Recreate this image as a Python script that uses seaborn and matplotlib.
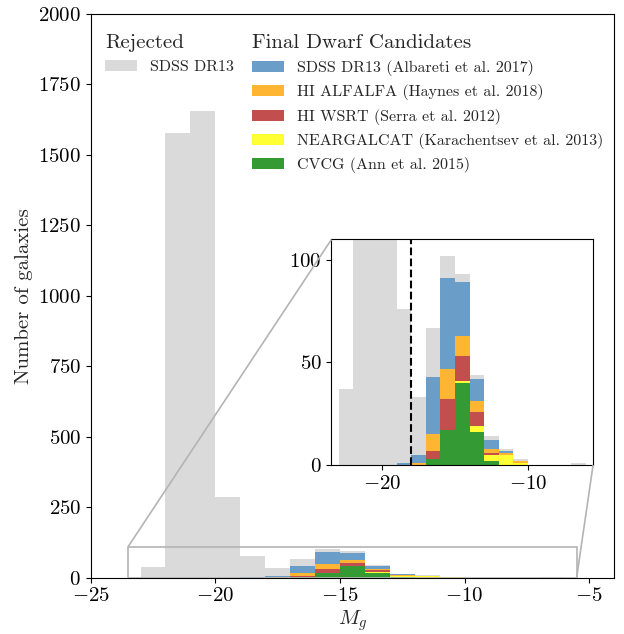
import numpy as np
import pandas as pd
import matplotlib
matplotlib.use('Agg')
import matplotlib.pyplot as plt
from matplotlib.patches import Patch
from mpl_toolkits.axes_grid1.inset_locator import mark_inset
import seaborn as sns

# bin edges in M_g (1 mag bins)
bin_edges = [-23, -22, -21, -20, -19, -18, -17, -16, -15, -14, -13, -12, -11, -10, -9, -8, -7, -6]

# counts per bin
rejected = [37, 1577, 1654, 285, 75, 28, 24, 11, 4, 2, 2, 1, 1, 0, 0, 0, 1]
sdss = [0, 0, 0, 0, 1, 4, 28, 44, 26, 11, 4, 1, 0, 0, 0, 0, 0]
alfalfa = [0, 0, 0, 0, 0, 1, 8, 15, 10, 5, 2, 1, 1, 0, 0, 0, 0]
wsrt = [0, 0, 0, 0, 0, 0, 4, 15, 12, 7, 1, 0, 0, 0, 0, 0, 0]
neargalcat = [0, 0, 0, 0, 0, 0, 0, 0, 1, 3, 3, 5, 1, 0, 0, 0, 0]
cvcg = [0, 0, 0, 0, 0, 0, 3, 17, 40, 16, 2, 0, 0, 0, 0, 0, 0]

sources = ['Rejected SDSS DR13',
           'SDSS DR13 (Albareti et al. 2017)',
           'HI ALFALFA (Haynes et al. 2018)',
           'HI WSRT (Serra et al. 2012)',
           'NEARGALCAT (Karachentsev et al. 2013)',
           'CVCG (Ann et al. 2015)']
colors = ['#dadada', '#6a9dc8', '#fdb532', '#c24e4e', '#ffff33', '#339a34']
cut_mag = -18


def build_frame():
    centers = np.array(bin_edges[:-1]) + 0.5
    rows = []
    for name, counts in zip(sources, [rejected, sdss, alfalfa, wsrt, neargalcat, cvcg]):
        for c, n in zip(centers, counts):
            rows.append({'Mg': c, 'count': n, 'source': name})
    return pd.DataFrame(rows)


def draw_hist(df, ax):
    sns.histplot(data=df, x='Mg', weights='count', hue='source', hue_order=sources,
                 palette=dict(zip(sources, colors)), multiple='stack', bins=bin_edges,
                 element='bars', linewidth=0, alpha=1, legend=False, ax=ax)


def create_visualization():
    df = build_frame()

    sns.set_style('ticks')
    plt.rcParams['font.family'] = 'serif'
    plt.rcParams['font.serif'] = ['cmr10']
    plt.rcParams['mathtext.fontset'] = 'cm'
    plt.rcParams['axes.formatter.use_mathtext'] = True
    plt.rcParams['axes.unicode_minus'] = True
    plt.rcParams['xtick.major.size'] = 3.5
    plt.rcParams['ytick.major.size'] = 3.5
    plt.rcParams['axes.edgecolor'] = 'black'
    plt.rcParams['xtick.color'] = 'black'
    plt.rcParams['ytick.color'] = 'black'

    fig = plt.figure(figsize=(6.24, 6.34), dpi=100)
    ax = fig.add_axes([0.1454, 0.0888, 0.8386, 0.8892])
    draw_hist(df, ax)
    ax.set_xlim(-25, -4)
    ax.set_ylim(0, 2000)
    ax.set_xticks([-25, -20, -15, -10, -5])
    ax.set_yticks(np.arange(0, 2001, 250))
    ax.tick_params(labelsize=15)
    ax.set_xlabel('$M_g$', fontsize=15, labelpad=2)
    ax.set_ylabel('Number of galaxies', fontsize=15)

    # legends
    rej_handles = [Patch(facecolor=colors[0], edgecolor='none')]
    leg1 = ax.legend(rej_handles, ['SDSS DR13'], title='Rejected', loc='upper left',
                     bbox_to_anchor=(0.0, 0.99), frameon=False, fontsize=11.5,
                     title_fontsize=15, alignment='left', labelspacing=0.52)
    ax.add_artist(leg1)
    cand_handles = [Patch(facecolor=c, edgecolor='none') for c in colors[1:]]
    ax.legend(cand_handles, sources[1:], title='Final Dwarf Candidates', loc='upper left',
              bbox_to_anchor=(0.281, 0.99), frameon=False, fontsize=11.5,
              title_fontsize=15, alignment='left', labelspacing=0.52)

    # zoomed inset
    axins = ax.inset_axes([0.46, 0.2, 0.5, 0.4])
    draw_hist(df, axins)
    axins.axvline(cut_mag, color='black', ls='--', lw=1.5)
    axins.set_xlim(-23.5, -5.5)
    axins.set_ylim(0, 110)
    axins.set_xticks([-20, -10])
    axins.set_yticks([0, 50, 100])
    axins.set_xlabel('')
    axins.set_ylabel('')
    axins.tick_params(labelsize=15)
    mark_inset(ax, axins, loc1=2, loc2=4, fc='none', ec='#b4b4b4', lw=1.2, zorder=5)

    fig.savefig('out.png', dpi=100)
    plt.close(fig)


if __name__ == "__main__":
    create_visualization()
